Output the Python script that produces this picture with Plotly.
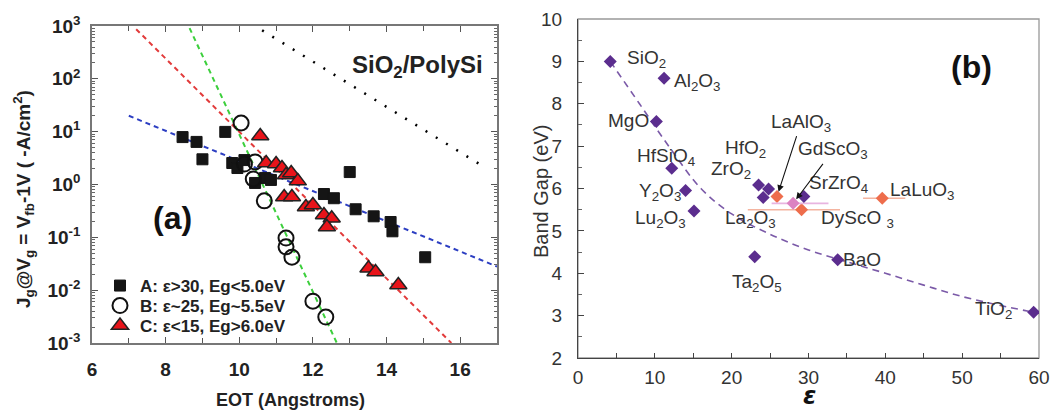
import plotly.graph_objects as go

W, H = 1055, 412

# ---------------- Panel (a) data ----------------
eot_A = [8.46, 8.84, 9.0, 9.62, 9.81, 9.95, 10.14, 10.43, 10.70, 10.86, 12.30, 12.57, 13.0, 13.16, 13.65, 14.11, 14.16, 15.05]
jg_A = [7.9, 6.4, 3.0, 9.9, 2.55, 2.05, 2.9, 1.07, 1.33, 1.22, 0.66, 0.55, 1.72, 0.34, 0.25, 0.195, 0.13, 0.042]
eot_B = [10.05, 10.14, 10.43, 10.38, 10.68, 11.27, 11.27, 11.43, 12.0, 12.35]
jg_B = [14.6, 2.44, 2.67, 1.27, 0.49, 0.097, 0.066, 0.042, 0.0062, 0.0031]
eot_C = [10.57, 10.73, 11.0, 11.16, 11.27, 11.41, 11.59, 11.22, 11.43, 11.81, 12.0, 12.30, 12.51, 12.38, 13.51, 13.70, 14.32]
jg_C = [8.3, 2.55, 2.44, 2.05, 1.51, 1.65, 1.16, 0.58, 0.58, 0.375, 0.41, 0.264, 0.23, 0.157, 0.026, 0.022, 0.0125]

fitA_x = [7.0, 17.0]
fitA_y = [20.0, 0.028]
fitB_x = [8.65, 12.65]
fitB_y = [910.0, 0.001]
fitC_x = [7.2, 15.76]
fitC_y = [870.0, 0.001]
sio2_x = [10.62, 16.65]
sio2_y = [830.0, 2.15]

legend_A = "A: ε&gt;30, Eg&lt;5.0eV"
legend_B = "B: ε~25, Eg~5.5eV"
legend_C = "C: ε&lt;15, Eg&gt;6.0eV"

xticks_a = [6, 8, 10, 12, 14, 16]
yticks_a = [1e-3, 1e-2, 1e-1, 1, 10, 100, 1000]
yticktext_a = ["10<sup>-3</sup>", "10<sup>-2</sup>", "10<sup>-1</sup>", "10<sup>0</sup>",
               "10<sup>1</sup>", "10<sup>2</sup>", "10<sup>3</sup>"]

# ---------------- Panel (b) data ----------------
oxide_names = ["SiO<sub>2</sub>", "Al<sub>2</sub>O<sub>3</sub>", "MgO", "HfSiO<sub>4</sub>",
               "Y<sub>2</sub>O<sub>3</sub>", "Lu<sub>2</sub>O<sub>3</sub>", "Ta<sub>2</sub>O<sub>5</sub>",
               "HfO<sub>2</sub>", "ZrO<sub>2</sub>", "La<sub>2</sub>O<sub>3</sub>", "SrZrO<sub>4</sub>",
               "BaO", "TiO<sub>2</sub>"]
oxide_k = [4.2, 11.2, 10.2, 12.2, 14.0, 15.1, 23.0, 23.5, 24.8, 24.1, 29.4, 33.8, 59.3]
oxide_eg = [9.0, 8.6, 7.58, 6.48, 5.95, 5.47, 4.39, 6.08, 5.99, 5.79, 5.81, 4.32, 3.08]

perov_names = ["LaAlO<sub>3</sub>", "DyScO <sub>3</sub>", "LaLuO<sub>3</sub>"]
perov_k = [25.9, 29.1, 39.6]
perov_eg = [5.81, 5.50, 5.77]
perov_err_minus = [0.0, 7.0, 2.5]
perov_err_plus = [0.0, 5.0, 3.0]

gdsc_name = "GdScO<sub>3</sub>"
gdsc_k = [28.0]
gdsc_eg = [5.65]
gdsc_err_minus = [2.8]
gdsc_err_plus = [4.6]

trend_k = [4.2, 8, 12, 16, 20, 25, 30, 35, 40, 45, 50, 55, 59.3]
trend_eg = [9.0, 8.0, 6.95, 6.0, 5.4, 4.92, 4.55, 4.27, 4.0, 3.72, 3.45, 3.24, 3.08]

# label offsets (pixels) for panel (b)
label_offsets = {
    "SiO<sub>2</sub>": (36, 2), "Al<sub>2</sub>O<sub>3</sub>": (33, -4), "MgO": (-28, 1),
    "HfSiO<sub>4</sub>": (-6, 11), "Y<sub>2</sub>O<sub>3</sub>": (-26, -1),
    "Lu<sub>2</sub>O<sub>3</sub>": (-34, -8), "Ta<sub>2</sub>O<sub>5</sub>": (2, -26),
    "HfO<sub>2</sub>": (-13, 36), "ZrO<sub>2</sub>": (-38, 19), "La<sub>2</sub>O<sub>3</sub>": (-13, -22),
    "SrZrO<sub>4</sub>": (35, 13), "BaO": (24, 0), "TiO<sub>2</sub>": (-40, 2),
    "DyScO <sub>3</sub>": (56, -9), "LaLuO<sub>3</sub>": (40, 7),
}
arrow_offsets = {"LaAlO<sub>3</sub>": (24, -74), gdsc_name: (40, -53)}

FA = "Liberation Sans"
PURPLE = "#5b2d8e"
ORANGE = "#ee6d4c"

fig = go.Figure()

# ---- panel (a) lines ----
dash_style = "5px,4px"
fig.add_trace(go.Scatter(x=sio2_x, y=sio2_y, mode="lines", line=dict(color="black", width=2.5, dash="2px,10px"),
                         showlegend=False, xaxis="x", yaxis="y"))
fig.add_trace(go.Scatter(x=fitC_x, y=fitC_y, mode="lines", line=dict(color="#e23b3b", width=2, dash=dash_style),
                         showlegend=False, xaxis="x", yaxis="y"))
fig.add_trace(go.Scatter(x=fitB_x, y=fitB_y, mode="lines", line=dict(color="#3ccf3c", width=2, dash=dash_style),
                         showlegend=False, xaxis="x", yaxis="y"))
fig.add_trace(go.Scatter(x=fitA_x, y=fitA_y, mode="lines", line=dict(color="#2c3ec2", width=2, dash=dash_style),
                         showlegend=False, xaxis="x", yaxis="y"))

# ---- panel (a) points ----
fig.add_trace(go.Scatter(x=eot_A, y=jg_A, mode="markers", name=legend_A, legend="legend",
                         marker=dict(symbol="square", size=11, color="#151515", line=dict(color="#151515", width=1)),
                         xaxis="x", yaxis="y"))
fig.add_trace(go.Scatter(x=eot_B, y=jg_B, mode="markers", name=legend_B, legend="legend2",
                         marker=dict(symbol="circle-open", size=15, color="#111", line=dict(color="#111", width=2)),
                         xaxis="x", yaxis="y"))
fig.add_trace(go.Scatter(x=eot_C, y=jg_C, mode="markers", name=legend_C, legend="legend3",
                         marker=dict(symbol="triangle-up", size=15, color="#e8141a", line=dict(color="#222", width=1.5)),
                         xaxis="x", yaxis="y"))

# ---- panel (b) ----
fig.add_trace(go.Scatter(x=trend_k, y=trend_eg, mode="lines", line=dict(color="#7b5aa8", width=1.6, dash="7px,5px", shape="spline"),
                         showlegend=False, xaxis="x2", yaxis="y2"))
fig.add_trace(go.Scatter(x=perov_k, y=perov_eg, mode="markers",
                         marker=dict(symbol="diamond", size=10, color=ORANGE),
                         error_x=dict(type="data", symmetric=False, array=perov_err_plus, arrayminus=perov_err_minus,
                                      color="#f4b4a0", thickness=1.6, width=0),
                         showlegend=False, xaxis="x2", yaxis="y2"))
fig.add_trace(go.Scatter(x=gdsc_k, y=gdsc_eg, mode="markers",
                         marker=dict(symbol="diamond", size=10, color="#dc82c2"),
                         error_x=dict(type="data", symmetric=False, array=gdsc_err_plus, arrayminus=gdsc_err_minus,
                                      color="#e8b4e0", thickness=1.6, width=0),
                         showlegend=False, xaxis="x2", yaxis="y2"))
fig.add_trace(go.Scatter(x=oxide_k, y=oxide_eg, mode="markers",
                         marker=dict(symbol="diamond", size=10, color=PURPLE),
                         showlegend=False, xaxis="x2", yaxis="y2"))

annotations = []
lab_font = dict(family=FA, size=19, color="#333")
for name, k, eg in zip(oxide_names + perov_names, oxide_k + perov_k, oxide_eg + perov_eg):
    if name in label_offsets:
        dx, dy = label_offsets[name]
        annotations.append(dict(x=k, y=eg, xref="x2", yref="y2", text=name, showarrow=False,
                                xanchor="center", yanchor="middle",
                                xshift=dx, yshift=dy, font=lab_font))
for name, k, eg in zip(["LaAlO<sub>3</sub>", gdsc_name], [perov_k[0], gdsc_k[0]], [perov_eg[0], gdsc_eg[0]]):
    ax, ay = arrow_offsets[name]
    annotations.append(dict(x=k, y=eg, xref="x2", yref="y2", text=name, showarrow=True,
                            ax=ax, ay=ay, arrowhead=2, arrowsize=1.2, arrowwidth=1.1, arrowcolor="#111",
                            standoff=5, font=lab_font))


def paper_text(px, py, text, size, family=FA, color="#222", angle=0):
    return dict(x=px / W, y=1 - py / H, xref="paper", yref="paper", xanchor="center", yanchor="middle",
                text=text, showarrow=False, textangle=angle, font=dict(family=family, size=size, color=color))


annotations += [
    paper_text(172, 218, "<b>(a)</b>", 32, color="#111"),
    paper_text(417, 66, "<b>SiO<sub>2</sub>/PolySi</b>", 24),
    paper_text(290, 400, "<b>EOT (Angstroms)</b>", 18),
    paper_text(23, 199, "<b>J<sub>g</sub>@V<sub>g</sub> = V<sub>fb</sub>-1V ( -A/cm<sup>2</sup>)</b>", 19, angle=-90),
    paper_text(971, 67, "<b>(b)</b>", 32, color="#111"),
    paper_text(541, 192, "Band Gap (eV)", 20, color="#333", angle=-90),
    paper_text(809, 396, "<b><i>ε</i></b>", 24, family="DejaVu Sans", color="#111"),
]

minor_log = [m * 10.0 ** e for e in range(-3, 3) for m in range(2, 10)]

leg_common = dict(xanchor="left", yanchor="middle", bgcolor="rgba(0,0,0,0)", itemwidth=30,
                  font=dict(family=FA, size=17, color="#222", weight="bold"))

fig.update_layout(
    width=W, height=H, margin=dict(l=0, r=0, t=0, b=0, autoexpand=False),
    paper_bgcolor="white", plot_bgcolor="white",
    showlegend=True,
    legend=dict(x=100 / W, y=1 - 286 / H, **leg_common),
    legend2=dict(x=100 / W, y=1 - 306 / H, **leg_common),
    legend3=dict(x=100 / W, y=1 - 326 / H, **leg_common),
    xaxis=dict(domain=[92 / W, 497 / W], range=[6, 17], showgrid=False, zeroline=False, automargin=False,
               showline=True, linecolor="#777", linewidth=1.5, mirror="ticks",
               ticks="inside", ticklen=6, tickcolor="#555", tickmode="array", tickvals=xticks_a,
               minor=dict(ticks="inside", ticklen=5, dtick=1, tickcolor="#555"),
               tickfont=dict(family=FA, size=19, color="#222", weight="bold"), ticklabelstandoff=8),
    yaxis=dict(domain=[1 - 343 / H, 1 - 26 / H], type="log", range=[-3, 3], showgrid=False, zeroline=False,
               automargin=False,
               showline=True, linecolor="#777", linewidth=1.5, mirror="ticks",
               ticks="inside", ticklen=6, tickcolor="#555", tickmode="array", tickvals=yticks_a,
               ticktext=yticktext_a,
               minor=dict(ticks="inside", ticklen=3, tickmode="array", tickvals=minor_log, tickcolor="#666"),
               tickfont=dict(family=FA, size=19, color="#222", weight="bold"), ticklabelstandoff=6),
    xaxis2=dict(domain=[578 / W, 1039 / W], range=[0, 60], anchor="y2", showgrid=False, zeroline=False,
                automargin=False,
                showline=True, linecolor="#444", linewidth=1.3,
                ticks="inside", ticklen=5, tickcolor="#444", dtick=10, tick0=0,
                minor=dict(ticks="inside", ticklen=5, dtick=5, tickcolor="#444"),
                tickfont=dict(family=FA, size=19, color="#333"), ticklabelstandoff=2),
    yaxis2=dict(domain=[1 - 358 / H, 1 - 19 / H], range=[2, 10], anchor="x2", showgrid=False, zeroline=False,
                automargin=False,
                showline=True, linecolor="#444", linewidth=1.3,
                ticks="inside", ticklen=6, tickcolor="#444", dtick=1, tick0=0,
                minor=dict(ticks="inside", ticklen=4, dtick=0.5, tickcolor="#666"),
                tickfont=dict(family=FA, size=19, color="#333"), ticklabelstandoff=11),
    annotations=annotations,
    shapes=[dict(type="rect", xref="x2 domain", yref="y2 domain", x0=0, x1=1, y0=0, y1=1,
                 line=dict(color="#999", width=1.3), layer="below")],
)

fig.write_html("out.html")
